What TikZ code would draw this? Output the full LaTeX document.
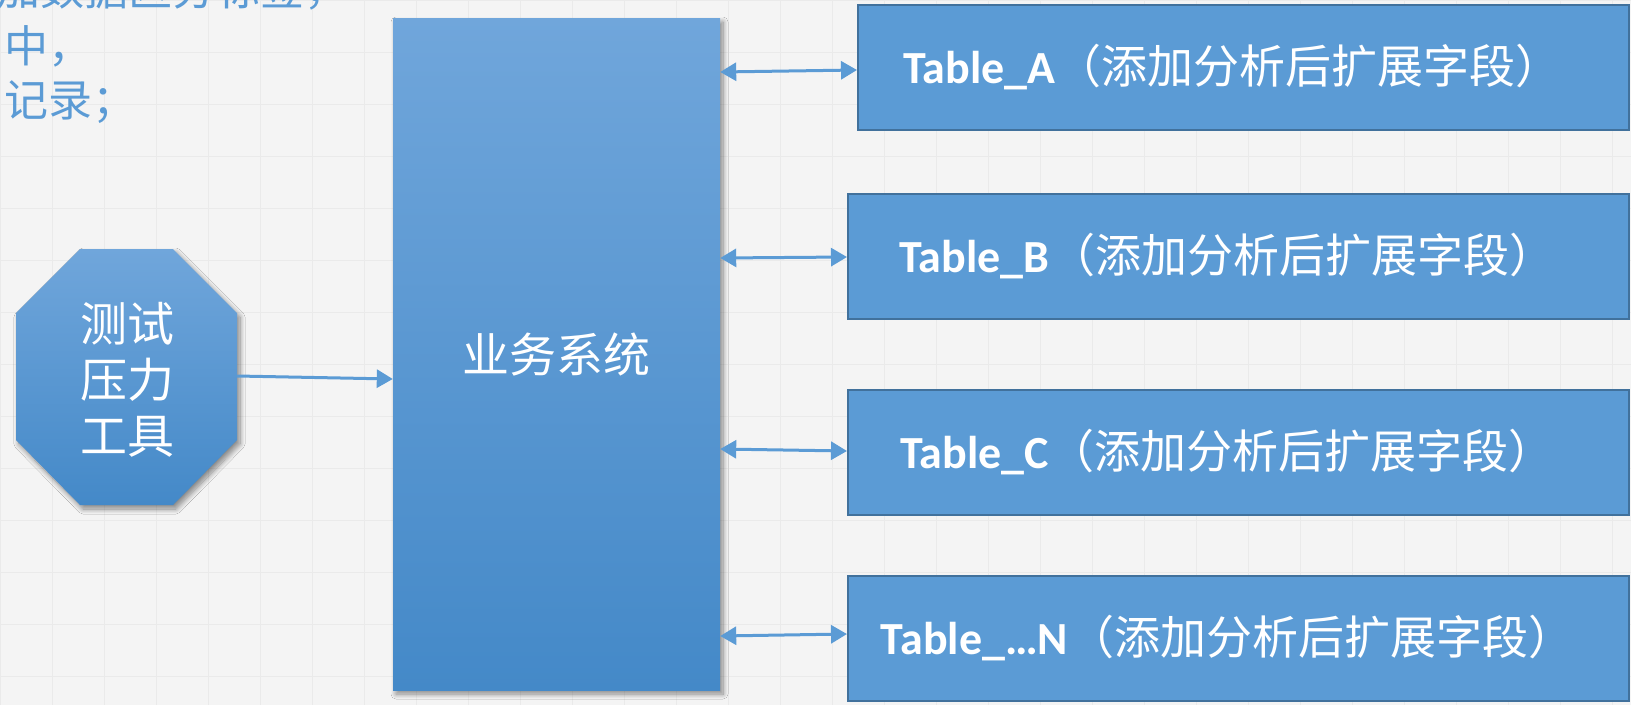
\documentclass[tikz,border=0pt]{standalone}
\usepackage{fontspec}
\setmainfont{Carlito}
\newfontfamily\cjk{Noto Sans CJK SC}
\newfontfamily\calb{Carlito}
\usetikzlibrary{arrows.meta,shadows.blur}
\definecolor{bgc}{HTML}{F4F4F4}
\definecolor{gridc}{HTML}{EAEAEA}
\definecolor{topc}{HTML}{70A6DB}
\definecolor{botc}{HTML}{4489C8}
\definecolor{tabfill}{HTML}{5B9BD5}
\definecolor{tabline}{HTML}{41719C}
\definecolor{arrc}{HTML}{5B9BD5}
\definecolor{txtc}{HTML}{5B9BD5}
\tikzset{
  shad/.style={blur shadow={shadow xshift=3pt, shadow yshift=-4pt, shadow blur radius=5pt, shadow blur steps=10, shadow opacity=45}},
  tabbox/.style={draw=tabline, line width=2pt, fill=tabfill, minimum height=125pt, inner sep=0pt, text=white},
  arr/.style={draw=arrc, line width=3pt, {Triangle[length=16pt,width=18pt]}-{Triangle[length=16pt,width=18pt]}},
  arrone/.style={draw=arrc, line width=3pt, -{Triangle[length=16pt,width=18pt]}},
  tabtext/.style={font=\fontsize{46}{55}\selectfont}
}
\newcommand{\tabtxt}[1]{{\calb\bfseries Table\_#1}{\cjk （添加分析后扩展字段）}\hspace*{22pt}}
\begin{document}
\begin{tikzpicture}[x=1pt,y=-1pt]
\clip (0,0) rectangle (1631,705);
\fill[bgc] (0,0) rectangle (1631,705);
\draw[gridc, line width=0.8pt] (0,0) grid[step=52pt] (1631,705);
% top-left text
\node[anchor=west, inner sep=0pt, text=txtc, font=\cjk\fontsize{44}{57}\selectfont] (t1) at (-4,-11) {加数据区分标签，};
\node[anchor=west, inner sep=0pt, text=txtc, font=\cjk\fontsize{44}{57}\selectfont] (t2) at (4,46) {中，};
\node[anchor=west, inner sep=0pt, text=txtc, font=\cjk\fontsize{44}{57}\selectfont] (t3) at (4,102) {记录；};
% main box
\node[shad, top color=topc, bottom color=botc, minimum width=327pt, minimum height=672pt, inner sep=0pt, text=white,
      font=\cjk\fontsize{47}{56}\selectfont] (main) at (556.5,354) {\raisebox{-5pt}{业务系统}};
% octagon
\path[shad, top color=topc, bottom color=botc] (16,313) -- (80,249) -- (173,249) -- (237,313) -- (237,440) -- (173,505) -- (80,505) -- (16,440) -- cycle;
\coordinate (octE) at (237,376);
\node[text=white, align=center, font=\cjk\fontsize{47}{56}\selectfont, inner sep=0pt] (oct) at (127,380) {测试\\压力\\工具};
% tables
\node[tabbox, minimum width=771pt, tabtext] (tA) at (1243.5,67) {\tabtxt{A}};
\node[tabbox, minimum width=781pt, tabtext] (tB) at (1238.5,256.5) {\tabtxt{B}};
\node[tabbox, minimum width=781pt, tabtext] (tC) at (1238.5,452.5) {\tabtxt{C}};
\node[tabbox, minimum width=781pt, tabtext] (tN) at (1238.5,638.5) {\tabtxt{…N}};
% connectors
\draw[arrone] (octE) -- (main.west |- 0,379);
\draw[arr] (main.east |- 0,72) -- (tA.west |- 0,70);
\draw[arr] (main.east |- 0,258) -- (tB.west |- 0,257);
\draw[arr] (main.east |- 0,449) -- (tC.west |- 0,451);
\draw[arr] (main.east |- 0,636) -- (tN.west |- 0,634);
\end{tikzpicture}
\end{document}
